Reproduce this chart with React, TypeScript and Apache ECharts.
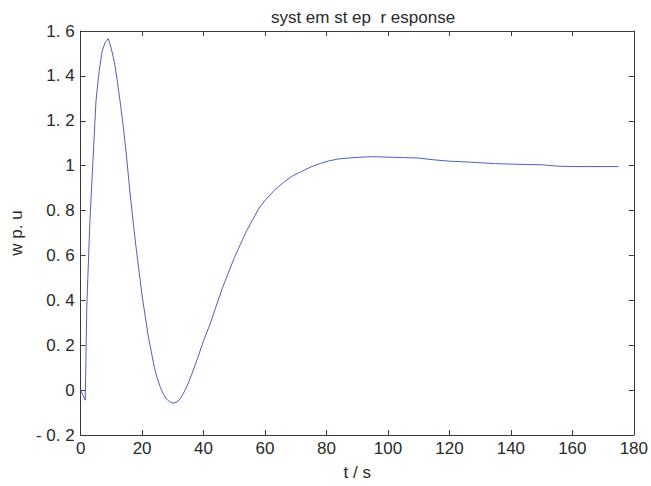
import React, { useEffect, useRef } from "react";
import * as echarts from "echarts";

const timeS: number[] = [
  0, 1.5, 2, 3, 4, 5, 6, 7, 8, 9, 10, 11, 12, 13, 14, 15, 16, 17, 18, 19, 20,
  21, 22, 23, 24, 25, 26, 27, 28, 29, 30, 31, 32, 33, 34, 35, 36, 38, 40, 42,
  44, 46, 48, 50, 52, 54, 56, 58, 60, 63, 66, 69, 72, 75, 78, 81, 84, 87, 90,
  95, 100, 105, 110, 115, 120, 125, 130, 135, 140, 145, 150, 155, 160, 165,
  170, 175,
];
const speedPU: number[] = [
  0, -0.045, 0.37, 0.75, 1.02, 1.29, 1.42, 1.51, 1.55, 1.566, 1.52, 1.46,
  1.37, 1.27, 1.16, 1.03, 0.89, 0.76, 0.64, 0.53, 0.42, 0.33, 0.24, 0.17, 0.1,
  0.05, 0.01, -0.02, -0.04, -0.052, -0.058, -0.055, -0.045, -0.025, 0.0, 0.03,
  0.065, 0.14, 0.22, 0.29, 0.37, 0.45, 0.52, 0.59, 0.65, 0.71, 0.76, 0.81,
  0.845, 0.89, 0.925, 0.955, 0.975, 0.995, 1.01, 1.022, 1.03, 1.034, 1.037,
  1.04, 1.038, 1.036, 1.034, 1.026, 1.02, 1.017, 1.013, 1.009, 1.007, 1.005,
  1.004, 0.998, 0.996, 0.996, 0.996, 0.996,
];

const titleText = "syst em st ep  r esponse";
const xName = "t / s";
const yName = "w p. u";

const FONT = "'Liberation Sans', Arial, sans-serif";
const AX = "#3a3a3a";
const TXT = "#2a2a2a";
const FS = 17;

export default function App() {
  const ref = useRef<HTMLDivElement>(null);
  useEffect(() => {
    if (!ref.current) return;
    const chart = echarts.init(ref.current, undefined, { renderer: "svg" });
    const fmtY = (v: number) => {
      const r = Math.round(v * 10) / 10;
      if (Number.isInteger(r)) return String(r);
      const s = r.toFixed(1).replace(".", ". ");
      return s.startsWith("-") ? "- " + s.slice(1) : s;
    };
    const tickInside = { show: true, inside: true, length: 5, lineStyle: { color: AX } };
    const line = { show: true, onZero: false, lineStyle: { color: AX, width: 1 } };
    chart.setOption({
      animation: false,
      backgroundColor: "#ffffff",
      title: {
        text: titleText,
        left: 358,
        textAlign: "center",
        top: 4,
        textStyle: { fontFamily: FONT, fontSize: FS, fontWeight: "normal", color: TXT },
      },
      grid: { left: 79, right: 15, top: 31, bottom: 47, containLabel: false },
      xAxis: [
        {
          type: "value",
          min: 0,
          max: 180,
          interval: 20,
          position: "bottom",
          name: xName,
          nameLocation: "middle",
          nameGap: 29,
          nameTextStyle: { fontFamily: FONT, fontSize: FS, color: TXT },
          axisLine: line,
          axisTick: tickInside,
          axisLabel: { fontFamily: FONT, fontSize: FS, color: TXT, margin: 5 },
          splitLine: { show: false },
        },
        {
          type: "value",
          min: 0,
          max: 180,
          interval: 20,
          position: "top",
          axisLine: line,
          axisTick: tickInside,
          axisLabel: { show: false },
          splitLine: { show: false },
        },
      ],
      yAxis: [
        {
          type: "value",
          min: -0.2,
          max: 1.6,
          interval: 0.2,
          position: "left",
          name: yName,
          nameLocation: "middle",
          nameGap: 54,
          nameTextStyle: { fontFamily: FONT, fontSize: FS, color: TXT },
          axisLine: line,
          axisTick: tickInside,
          axisLabel: { fontFamily: FONT, fontSize: FS, color: TXT, margin: 6, formatter: fmtY },
          splitLine: { show: false },
        },
        {
          type: "value",
          min: -0.2,
          max: 1.6,
          interval: 0.2,
          position: "right",
          axisLine: line,
          axisTick: tickInside,
          axisLabel: { show: false },
          splitLine: { show: false },
        },
      ],
      series: [
        {
          type: "line",
          xAxisIndex: 0,
          yAxisIndex: 0,
          data: timeS.map((t, i) => [t, speedPU[i]]),
          showSymbol: false,
          symbol: "none",
          lineStyle: { color: "#4f5fc4", width: 1 },
        },
      ],
    });
    return () => chart.dispose();
  }, []);
  return (
    <div
      ref={ref}
      style={{ position: "fixed", left: 0, top: 0, width: 651, height: 486 }}
    />
  );
}
